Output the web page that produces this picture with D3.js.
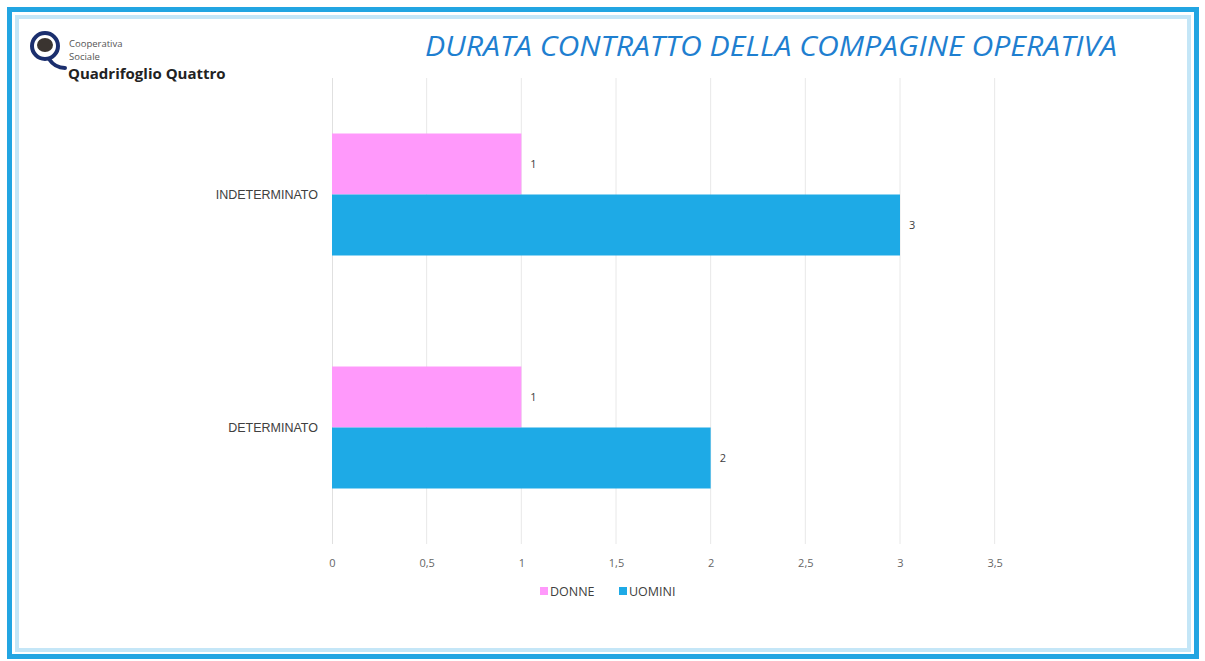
<!DOCTYPE html>
<html lang="it">
<head>
<meta charset="UTF-8">
<script src="https://d3js.org/d3.v7.min.js"></script>
<title>Durata contratto</title>
<style>
  body { margin: 0; background: #fff; }
  svg { display: block; font-family: "Open Sans", "Noto Sans", sans-serif; }
</style>
</head>
<body>
<svg id="chart" width="1205" height="661"></svg>
<script>
// data
const categories = ["INDETERMINATO", "DETERMINATO"];
const seriesNames = ["DONNE", "UOMINI"];
const donne = [1, 1];
const uomini = [3, 2];
const tickValues = [0, 0.5, 1, 1.5, 2, 2.5, 3, 3.5];
const colors = ["#ff99fb", "#1eaae6"];

const svg = d3.select("#chart");

// frame
svg.append("rect").attr("x", 9.5).attr("y", 9.5).attr("width", 1187).attr("height", 647)
  .attr("fill", "none").attr("stroke", "#22a5e2").attr("stroke-width", 5);
svg.append("rect").attr("x", 17).attr("y", 17).attr("width", 1172).attr("height", 633)
  .attr("fill", "none").attr("stroke", "#c4e6f7").attr("stroke-width", 4);

// logo
const logo = svg.append("g");
logo.append("circle").attr("cx", 45).attr("cy", 46).attr("r", 13)
  .attr("fill", "none").attr("stroke", "#1b2f6e").attr("stroke-width", 4);
logo.append("path").attr("d", "M49 59 Q55 68 65 68").attr("fill", "none")
  .attr("stroke", "#1b2f6e").attr("stroke-width", 4).attr("stroke-linecap", "round");
logo.append("ellipse").attr("cx", 45).attr("cy", 45).attr("rx", 8).attr("ry", 7).attr("fill", "#3a3430");
logo.append("text").attr("x", 69).attr("y", 47).attr("font-size", 9.5).attr("fill", "#555").text("Cooperativa");
logo.append("text").attr("x", 69).attr("y", 60).attr("font-size", 9.5).attr("fill", "#555").text("Sociale");
logo.append("text").attr("x", 68).attr("y", 79).attr("font-size", 15).attr("font-weight", "bold")
  .attr("fill", "#222").text("Quadrifoglio Quattro");

// title
svg.append("text").attr("x", 771).attr("y", 56).attr("text-anchor", "middle")
  .attr("font-size", 27.5).attr("font-style", "italic").attr("fill", "#1f7fd0")
  .attr("textLength", 692).attr("lengthAdjust", "spacingAndGlyphs")
  .text("DURATA CONTRATTO DELLA COMPAGINE OPERATIVA");

// scales
const x = d3.scaleLinear().domain([0, 3]).range([332, 900]);
const y = d3.scaleBand().domain(categories).range([78, 544]);
const inner = d3.scaleBand().domain(seriesNames).range([0, y.bandwidth()]).paddingInner(0).paddingOuter(0.91);

// gridlines
svg.append("g").selectAll("line").data(tickValues.slice(1)).join("line")
  .attr("x1", d => x(d)).attr("x2", d => x(d))
  .attr("y1", 78).attr("y2", 544)
  .attr("stroke", "#e8e8e8").attr("stroke-width", 1);

// x axis labels
const xAxis = d3.axisBottom(x).tickValues(tickValues).tickSize(0)
  .tickFormat(d => String(d).replace(".", ","));
const gx = svg.append("g").attr("transform", "translate(0,556)").call(xAxis);
gx.select(".domain").remove();
gx.selectAll("text").attr("font-size", 11).attr("fill", "#666").attr("font-family", "\"Open Sans\", sans-serif");

// y axis
const gy = svg.append("g").attr("transform", "translate(332,0)")
  .call(d3.axisLeft(y).tickSize(0).tickPadding(14));
gy.select(".domain").attr("stroke", "#e0e0e0").attr("d", "M0.5,78V544");
gy.selectAll("text").attr("font-size", 12.5).attr("fill", "#404040");

// bars
const rows = categories.map((c, i) => ({ cat: c, values: [donne[i], uomini[i]] }));
const groups = svg.append("g").selectAll("g").data(rows).join("g")
  .attr("transform", d => `translate(0,${y(d.cat)})`);

groups.selectAll("rect").data(d => d.values.map((v, j) => ({ name: seriesNames[j], v, j })))
  .join("rect")
  .attr("x", x(0)).attr("y", d => inner(d.name))
  .attr("width", d => x(d.v) - x(0)).attr("height", inner.bandwidth())
  .attr("fill", d => colors[d.j]);

groups.selectAll("text.val").data(d => d.values.map((v, j) => ({ name: seriesNames[j], v })))
  .join("text").attr("class", "val")
  .attr("x", d => x(d.v) + 9).attr("y", d => inner(d.name) + inner.bandwidth() / 2 + 4)
  .attr("font-size", 11).attr("fill", "#404040").text(d => d.v);

// legend
const legend = svg.append("g").attr("transform", "translate(540,592)");
const items = [{ name: "DONNE", c: colors[0], dx: 0 }, { name: "UOMINI", c: colors[1], dx: 79 }];
items.forEach(it => {
  legend.append("rect").attr("x", it.dx).attr("y", -5).attr("width", 8).attr("height", 8).attr("fill", it.c);
  legend.append("text").attr("x", it.dx + 10).attr("y", 4).attr("font-size", 12.5).attr("fill", "#404040").text(it.name);
});
</script>
</body>
</html>
